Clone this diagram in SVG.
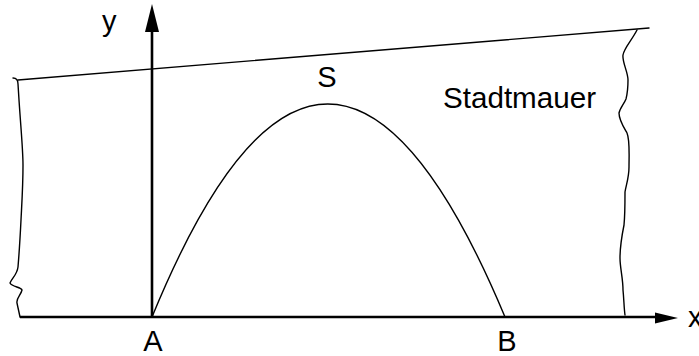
<svg xmlns="http://www.w3.org/2000/svg" width="699" height="356" viewBox="0 0 699 356">
<style>
.thin{fill:none;stroke:#000;stroke-width:1.4;stroke-linejoin:round;stroke-linecap:round}
.axis{fill:none;stroke:#000;stroke-width:2.6}
.head{fill:#000;stroke:none}
text{font-family:"Liberation Sans",Arial,sans-serif;font-size:29px;fill:#000}
</style>
<rect width="699" height="356" fill="#fff"/>
<g id="wall">
<line class="thin" x1="18" y1="80" x2="649" y2="28"/>
<path class="thin" d="M13,78 C16,78 18,80 18,84 L19,100 C21,130 23,150 23,165 C23,185 22,200 21,220 C20,240 19,255 18,267 C17,275 12,278 10,283 C12,287 21,287 22,290 C21,295 16,298 17,303 C18,308 19,312 20,317"/>
<path class="thin" d="M637,30 C632,40 624,48 623,55 C622,62 628,72 628,80 C628,90 627,95 626,99 C624,104 620,108 619,113 C619,120 623,126 627,133 C630,140 629,155 629,167 C629,178 626,185 625,192 C625,205 625,215 624,225 C622,235 620,250 620,258 C620,268 623,278 623,290 C624,300 624,308 625,315"/>
<text x="443" y="108" textLength="153" lengthAdjust="spacingAndGlyphs">Stadtmauer</text>
</g>
<g id="axes">
<line class="axis" x1="20" y1="317" x2="658" y2="317"/>
<polygon class="head" points="678,318 655,312.5 655,323.5"/>
<line class="axis" x1="152" y1="317" x2="152" y2="28"/>
<polygon class="head" points="152,4 145,32 159,32"/>
<text x="102" y="31">y</text>
<text x="688" y="327">x</text>
</g>
<g id="arc">
<path class="thin" d="M152,317 Q327,-109 505,317"/>
</g>
<g id="S"><text x="327" y="87" text-anchor="middle">S</text></g>
<g id="A"><text x="153" y="351" text-anchor="middle">A</text></g>
<g id="B"><text x="507" y="351" text-anchor="middle">B</text></g>
</svg>
